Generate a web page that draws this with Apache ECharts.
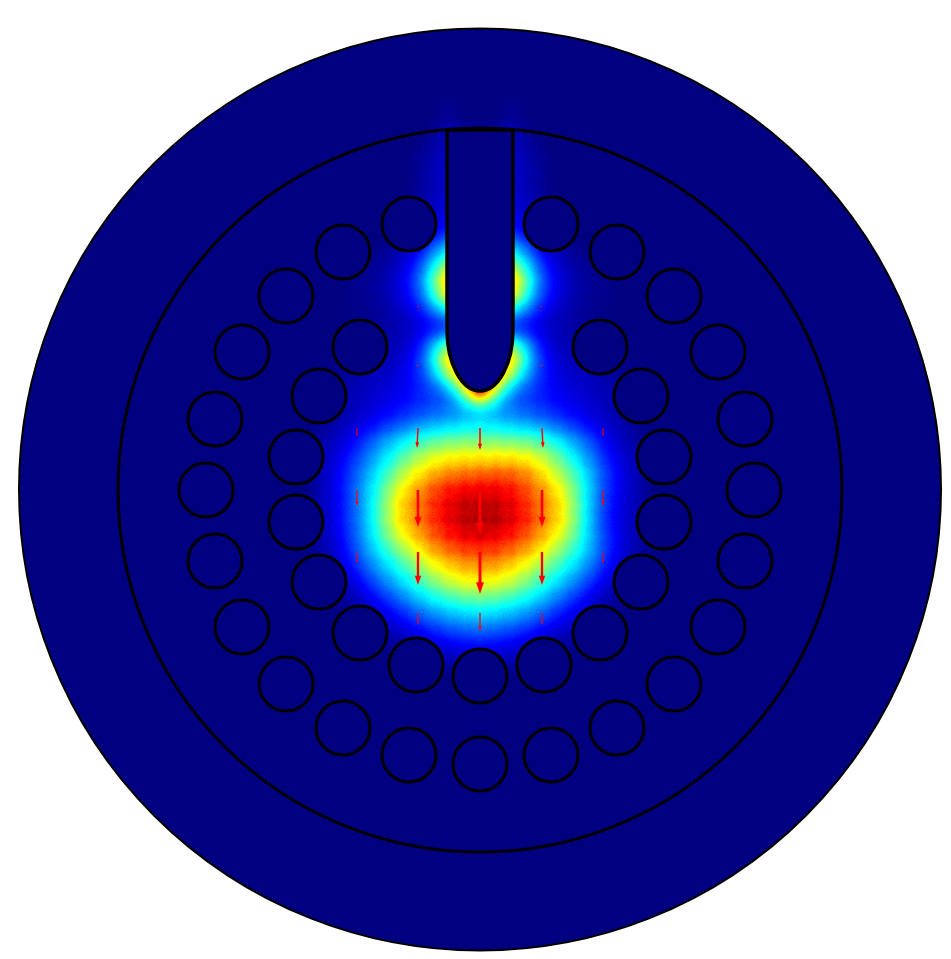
<!DOCTYPE html>
<html style="height: 100%">

<head>
    <meta charset="utf-8">
</head>

<body style="height: 100%; margin: 0; background: #fff">
    <div id="container" style="width: 951px; height: 959px"></div>

    <script type="text/javascript" src="https://cdn.jsdelivr.net/npm/echarts@6/dist/echarts.min.js"></script>

    <script type="text/javascript">

        // field level, 0 = navy ... 100 = dark red
        var fieldX = [320, 336, 352, 368, 384, 400, 416, 432, 448, 464, 480, 496, 512, 528, 544, 560, 576, 592, 608, 624, 640];
        var fieldY = [104, 120, 136, 152, 168, 184, 200, 216, 232, 248, 264, 280, 296, 312, 328, 344, 360, 376, 392, 408, 424, 440, 456, 472, 488, 504, 520, 536, 552, 568, 584, 600, 616, 632, 648, 664];
        var fieldRows = [
            [0, 0, 0, 0, 0, 0, 0, 0, 3, 0, 0, 0, 3, 0, 0, 0, 0, 0, 0, 0, 0],
            [0, 0, 0, 0, 0, 0, 0, 1, 5, 0, 0, 0, 5, 1, 0, 0, 0, 0, 0, 0, 0],
            [0, 0, 0, 0, 0, 0, 1, 4, 8, 8, 8, 8, 8, 4, 1, 0, 0, 0, 0, 0, 0],
            [0, 0, 0, 0, 0, 0, 2, 6, 9, 9, 9, 9, 9, 6, 2, 0, 0, 0, 0, 0, 0],
            [0, 0, 0, 0, 0, 1, 3, 7, 10, 10, 10, 10, 10, 7, 3, 1, 0, 0, 0, 0, 0],
            [0, 0, 0, 0, 0, 1, 3, 7, 10, 10, 10, 10, 10, 7, 3, 1, 0, 0, 0, 0, 0],
            [0, 0, 0, 0, 0, 1, 4, 8, 11, 11, 11, 11, 11, 8, 4, 1, 0, 0, 0, 0, 0],
            [0, 0, 0, 0, 0, 2, 5, 9, 13, 13, 13, 13, 13, 9, 5, 2, 0, 0, 0, 0, 0],
            [0, 0, 0, 0, 1, 3, 7, 13, 18, 18, 18, 18, 18, 13, 7, 3, 1, 0, 0, 0, 0],
            [0, 0, 0, 1, 3, 6, 12, 23, 38, 38, 38, 38, 38, 23, 12, 6, 3, 1, 0, 0, 0],
            [0, 0, 1, 3, 5, 9, 17, 36, 58, 58, 58, 58, 58, 36, 17, 9, 5, 3, 1, 0, 0],
            [0, 0, 2, 4, 6, 12, 22, 46, 78, 78, 78, 78, 78, 46, 22, 12, 6, 4, 2, 0, 0],
            [0, 0, 2, 4, 6, 11, 19, 40, 70, 70, 70, 70, 70, 40, 19, 11, 6, 4, 2, 0, 0],
            [0, 0, 2, 3, 5, 8, 13, 24, 38, 38, 38, 38, 38, 24, 13, 8, 5, 3, 2, 0, 0],
            [0, 1, 2, 3, 5, 7, 10, 13, 15, 15, 15, 15, 15, 13, 10, 7, 5, 3, 2, 1, 0],
            [0, 1, 3, 5, 6, 8, 13, 31, 54, 54, 54, 54, 54, 31, 13, 8, 6, 5, 3, 1, 0],
            [1, 2, 4, 6, 7, 10, 17, 38, 74, 74, 74, 74, 74, 38, 17, 10, 7, 6, 4, 2, 1],
            [1, 3, 6, 8, 9, 12, 17, 29, 52, 84, 84, 84, 52, 29, 17, 12, 9, 8, 6, 3, 1],
            [2, 5, 7, 9, 11, 13, 17, 21, 27, 54, 100, 54, 27, 21, 17, 13, 11, 9, 7, 5, 2],
            [3, 5, 8, 10, 13, 16, 19, 22, 25, 31, 37, 31, 25, 22, 19, 16, 13, 10, 8, 5, 3],
            [3, 6, 9, 13, 18, 23, 28, 32, 34, 36, 38, 36, 34, 32, 28, 23, 18, 13, 9, 6, 3],
            [5, 9, 14, 22, 30, 37, 44, 48, 51, 52, 52, 52, 51, 50, 46, 38, 30, 22, 13, 8, 4],
            [6, 11, 18, 27, 37, 46, 55, 61, 64, 65, 65, 65, 65, 63, 58, 49, 37, 27, 16, 10, 5],
            [7, 13, 22, 32, 43, 55, 64, 70, 74, 76, 77, 78, 78, 74, 66, 56, 46, 32, 20, 12, 6],
            [7, 13, 23, 35, 49, 64, 72, 80, 85, 87, 88, 88, 86, 80, 73, 64, 50, 33, 19, 11, 6],
            [7, 13, 23, 36, 52, 68, 75, 83, 89, 92, 93, 92, 89, 83, 75, 68, 52, 32, 18, 11, 6],
            [7, 13, 23, 36, 52, 68, 75, 83, 89, 93, 95, 94, 90, 84, 75, 68, 52, 32, 17, 10, 6],
            [6, 12, 22, 35, 49, 62, 71, 79, 85, 89, 90, 89, 85, 79, 71, 62, 49, 32, 19, 11, 5],
            [5, 10, 20, 31, 42, 52, 62, 71, 77, 81, 82, 81, 77, 71, 64, 52, 43, 31, 19, 10, 5],
            [3, 8, 15, 26, 34, 43, 52, 61, 67, 71, 73, 71, 67, 60, 53, 44, 35, 26, 15, 8, 3],
            [2, 5, 10, 18, 27, 35, 43, 51, 58, 62, 64, 62, 58, 51, 43, 35, 27, 18, 10, 5, 2],
            [1, 3, 6, 11, 18, 25, 33, 39, 44, 47, 49, 47, 44, 39, 33, 25, 18, 11, 6, 3, 1],
            [0, 1, 3, 6, 11, 16, 22, 28, 32, 35, 36, 35, 32, 28, 22, 16, 11, 6, 3, 1, 0],
            [0, 0, 2, 3, 6, 9, 13, 17, 21, 23, 25, 23, 21, 17, 13, 9, 6, 3, 2, 0, 0],
            [0, 0, 0, 2, 3, 4, 6, 8, 11, 13, 14, 13, 11, 8, 6, 4, 3, 2, 0, 0, 0],
            [0, 0, 0, 0, 0, 2, 3, 4, 5, 6, 7, 6, 5, 4, 3, 2, 0, 0, 0, 0, 0]
        ];

        // rings: x, y, radius
        var boundaries = [[480, 489.5, 461], [480, 490, 362]];
        var rods = [
            [409, 224], [343, 252], [286, 296], [242, 352], [215, 419], [206, 490], [215, 561], [242, 627],
            [286, 684], [343, 728], [409, 755], [480, 764], [551, 755], [617, 728], [674, 684], [718, 627],
            [745, 561], [754, 490], [745, 419], [718, 352], [674, 296], [617, 252], [551, 224],
            [360, 347], [319, 396], [296, 457], [296, 522], [319, 582], [360, 633], [416, 665], [480, 676],
            [544, 665], [600, 633], [641, 582], [664, 522], [664, 457], [641, 396], [600, 347]
        ];
        var rodRadius = 27;

        // left x, right x, top y, shoulder y, tip y
        var probe = [447, 513, 130, 330, 391];

        // arrows: x, y, dx, dy
        var arrows = [
            [357, 428, 0, 8], [418, 428, -1, 20], [480, 428, 0, 22], [542, 428, 1, 20], [603, 428, 0, 8],
            [357, 490, 0, 16], [418, 490, 0, 37], [480, 490, 0, 45], [542, 490, 0, 37], [603, 490, 0, 16],
            [357, 552, 0, 11], [418, 552, 0, 33], [480, 552, 0, 42], [542, 552, 0, 33], [603, 552, 0, 11],
            [418, 613, 0, 12], [480, 613, 0, 18], [542, 613, 0, 12],
            [418, 306, 0, 2], [541, 306, 0, 2], [417, 365, 0, 2], [542, 365, 0, 2]
        ];

        var WIDTH = 951, HEIGHT = 959;
        var NAVY = '#000080';

        // the blurred layer piles alpha up, so the ramp is bent back to the field level
        var PILE = 1.0, FIELD_MAX = 110;

        function jet(level) {
            var t = Math.min(level / 100, 1);
            function c(v) { return Math.round(255 * Math.max(0, Math.min(1, 1.5 - Math.abs(4 * t - v)))); }
            return 'rgb(' + c(3) + ',' + c(2) + ',' + c(1) + ')';
        }
        var ramp = [];
        for (var i = 0; i < 200; i++) {
            ramp.push(jet(-FIELD_MAX * Math.log(1 - i / 200) / PILE));
        }

        var fieldData = [];
        fieldRows.forEach(function (row, r) {
            row.forEach(function (v, c) {
                fieldData.push([fieldX[c], -fieldY[r], v]);
            });
        });

        echarts.registerMap('frame', {
            type: 'FeatureCollection',
            features: [{
                type: 'Feature',
                properties: { name: 'frame' },
                geometry: { type: 'Polygon', coordinates: [[[0, 0], [WIDTH, 0], [WIDTH, -HEIGHT], [0, -HEIGHT], [0, 0]]] }
            }]
        });

        function renderRing(fill, lineWidth) {
            return function (params, api) {
                var p = api.coord([api.value(0), api.value(1)]);
                return {
                    type: 'circle',
                    shape: { cx: p[0], cy: p[1], r: api.size([api.value(2), 0])[0] },
                    style: { fill: fill, stroke: '#000', lineWidth: lineWidth }
                };
            };
        }

        function renderRod(params, api) {
            var p = api.coord([api.value(0), api.value(1)]);
            return {
                type: 'circle',
                shape: { cx: p[0], cy: p[1], r: api.size([rodRadius, 0])[0] },
                style: { fill: NAVY, stroke: '#000', lineWidth: 3 }
            };
        }

        function renderProbe(params, api) {
            var a = api.coord([probe[0], probe[2]]);
            var b = api.coord([probe[0], probe[3]]);
            var c = api.coord([probe[1], probe[3]]);
            var d = api.coord([probe[1], probe[2]]);
            var rx = (c[0] - b[0]) / 2;
            var ry = api.coord([0, probe[4]])[1] - b[1];
            var path = 'M' + a[0] + ' ' + a[1] + ' L' + b[0] + ' ' + b[1] +
                ' A' + rx + ' ' + ry + ' 0 0 0 ' + c[0] + ' ' + c[1] +
                ' L' + d[0] + ' ' + d[1] + ' Z';
            return {
                type: 'path',
                shape: { pathData: path },
                style: { fill: NAVY, stroke: '#000', lineWidth: 3.5 }
            };
        }

        function renderArrow(params, api) {
            var s = api.coord([api.value(0), api.value(1)]);
            var e = api.coord([api.value(0) + api.value(2), api.value(1) + api.value(3)]);
            var dx = e[0] - s[0], dy = e[1] - s[1];
            var len = Math.sqrt(dx * dx + dy * dy);
            var ux = dx / len, uy = dy / len;
            var headLen = Math.max(2, len * 0.28), headHalf = Math.max(1, len * 0.095), shaft = Math.max(0.5, len * 0.035);
            var bx = e[0] - ux * headLen, by = e[1] - uy * headLen;
            return {
                type: 'polygon',
                shape: {
                    points: [
                        [s[0] - uy * shaft, s[1] + ux * shaft],
                        [bx - uy * shaft, by + ux * shaft],
                        [bx - uy * headHalf, by + ux * headHalf],
                        [e[0], e[1]],
                        [bx + uy * headHalf, by - ux * headHalf],
                        [bx + uy * shaft, by - ux * shaft],
                        [s[0] + uy * shaft, s[1] - ux * shaft]
                    ]
                },
                style: { fill: '#f00' }
            };
        }

        var dom = document.getElementById('container');
        var myChart = echarts.init(dom);

        var option = {
            animation: false,
            backgroundColor: '#fff',
            grid: { left: 0, top: 0, right: 0, bottom: 0 },
            xAxis: { type: 'value', min: 0, max: WIDTH, show: false },
            yAxis: { type: 'value', min: 0, max: HEIGHT, inverse: true, show: false },
            geo: {
                map: 'frame',
                left: 0,
                top: 0,
                width: WIDTH,
                height: HEIGHT,
                aspectScale: 1,
                silent: true,
                label: { show: false },
                itemStyle: { areaColor: 'transparent', borderWidth: 0 }
            },
            visualMap: {
                type: 'continuous',
                show: false,
                seriesIndex: 1,
                min: 0,
                max: FIELD_MAX,
                inRange: { color: ramp }
            },
            series: [
                {
                    type: 'custom',
                    z: 1,
                    silent: true,
                    clip: false,
                    renderItem: renderRing(NAVY, 2),
                    data: boundaries.slice(0, 1)
                },
                {
                    type: 'heatmap',
                    coordinateSystem: 'geo',
                    z: 2,
                    silent: true,
                    pointSize: 9,
                    blurSize: 18,
                    minOpacity: 1,
                    maxOpacity: 1,
                    data: fieldData
                },
                {
                    type: 'custom',
                    z: 3,
                    silent: true,
                    clip: false,
                    renderItem: renderRing('transparent', 3),
                    data: boundaries.slice(1)
                },
                {
                    type: 'custom',
                    z: 4,
                    silent: true,
                    renderItem: renderRod,
                    data: rods
                },
                {
                    type: 'custom',
                    z: 5,
                    silent: true,
                    renderItem: renderProbe,
                    data: [[0]]
                },
                {
                    type: 'custom',
                    z: 6,
                    silent: true,
                    renderItem: renderArrow,
                    data: arrows
                }
            ]
        };

        myChart.setOption(option);

    </script>
</body>

</html>
